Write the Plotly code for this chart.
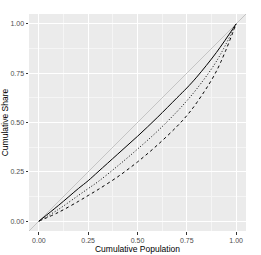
import plotly.graph_objects as go

# Cumulative population shares
pop = [0.0, 0.1, 0.2, 0.25, 0.3, 0.4, 0.5, 0.6, 0.7, 0.75, 0.8, 0.9, 1.0]
# Lorenz curves
share_solid = [0.0, 0.08, 0.165, 0.205, 0.25, 0.34, 0.43, 0.525, 0.625, 0.675, 0.73, 0.855, 1.0]
share_dotted = [0.0, 0.06, 0.13, 0.165, 0.2, 0.28, 0.365, 0.455, 0.555, 0.61, 0.67, 0.81, 1.0]
share_dashed = [0.0, 0.045, 0.1, 0.13, 0.16, 0.225, 0.3, 0.385, 0.48, 0.535, 0.6, 0.76, 1.0]

tick_vals = [0.0, 0.25, 0.5, 0.75, 1.0]
tick_text = ["0.00", "0.25", "0.50", "0.75", "1.00"]
axis_range = [-0.05, 1.05]

fig = go.Figure()
# equality line
fig.add_trace(go.Scatter(x=axis_range, y=axis_range, mode="lines",
                         line=dict(color="#c4c4c4", width=1), showlegend=False, hoverinfo="skip"))
fig.add_trace(go.Scatter(x=pop, y=share_solid, mode="lines", line_shape="spline",
                         line=dict(color="black", width=1), showlegend=False))
fig.add_trace(go.Scatter(x=pop, y=share_dotted, mode="lines", line_shape="spline",
                         line=dict(color="black", width=1, dash="1px,2px"), showlegend=False))
fig.add_trace(go.Scatter(x=pop, y=share_dashed, mode="lines", line_shape="spline",
                         line=dict(color="black", width=1, dash="3px,3px"), showlegend=False))

axis_common = dict(
    range=axis_range, tickvals=tick_vals, ticktext=tick_text,
    showgrid=True, gridcolor="white", gridwidth=1,
    zeroline=False, showline=False,
    ticks="outside", ticklen=2.5, tickwidth=0.8, tickcolor="#333333",
    tickfont=dict(family="Liberation Sans, Arial, sans-serif", size=7, color="#4d4d4d"),
    minor=dict(tickvals=[0.125, 0.375, 0.625, 0.875], showgrid=True, gridcolor="#f5f5f5", gridwidth=0.5, ticks=""),
    automargin=False,
)

fig.update_layout(
    width=261, height=255,
    margin=dict(l=29, r=15, t=14, b=24),
    paper_bgcolor="white", plot_bgcolor="#ebebeb",
    font=dict(family="Liberation Sans, Arial, sans-serif", color="black"),
    xaxis=dict(**axis_common, title=dict(text="Cumulative Population", font=dict(size=8.5, color="black"), standoff=0)),
    yaxis=dict(**axis_common, title=dict(text="Cumulative Share", font=dict(size=8.5, color="black"), standoff=0)),
)

fig.write_html("out.html", config={"displayModeBar": False},
               post_script="document.body.style.margin='0px';document.body.style.padding='0px';")
